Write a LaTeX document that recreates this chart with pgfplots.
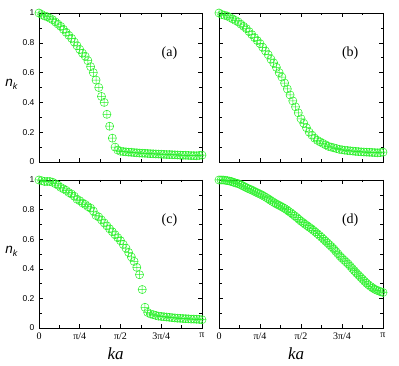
\documentclass[border=0pt]{standalone}
\usepackage{fontspec}
\setmainfont{Liberation Serif}
\setsansfont{Liberation Sans}
\usepackage{pgfplots}
\pgfplotsset{compat=1.18}
\definecolor{ptgreen}{RGB}{40,240,40}

\pgfplotsset{
  panel/.style={
    scale only axis, anchor=south west,
    width=163pt, height=149pt,
    xmin=0, ymin=0, ymax=1,
    ytick={0,0.2,0.4,0.6,0.8,1},
    minor x tick num=1, minor y tick num=1,
    major tick length=4pt, minor tick length=2.5pt,
    tick style={black, line width=0.5pt},
    axis line style={black, line width=0.6pt},
    clip=false,
    xticklabels={}, yticklabels={},
    /pgf/number format/assume math mode=true,
    yticklabel style={font=\sffamily\fontsize{8.5}{9}\selectfont, xshift=-1pt},
    xticklabel style={font=\fontsize{10}{11}\selectfont, yshift=-1pt},
  },
  sixty/.style={xmax=60, xtick={0,15,30,45,60}},
  eighty/.style={xmax=80, xtick={0,20,40,60,80}},
  ylab/.style={
    yticklabels={0,0.2,0.4,0.6,0.8,1},
    ylabel={\sffamily\itshape\fontsize{13.5}{13.5}\selectfont n\raisebox{-0.4ex}{\fontsize{9}{9}\selectfont k}},
    ylabel style={rotate=-90, at={(axis description cs:-0.17,0.52)}, anchor=center},
  },
  xlab/.style={
    xticklabels={0,π/4,π/2,3π/4,π},
    xlabel={\itshape\fontsize{17}{17}\selectfont ka},
    xlabel style={at={(axis description cs:0.47,-0.11)}, anchor=north},
  },
  pts/.style={only marks, mark=oplus, mark size=4.1pt, color=ptgreen, mark options={line width=0.5pt}},
}
\newcommand{\plab}[1]{\node[font=\fontsize{14}{14}\selectfont] at (axis description cs:0.80,0.73) {#1};}

\begin{document}
\begin{tikzpicture}
\useasboundingbox (0,0) rectangle (399pt,366pt);

% (a)
\begin{axis}[panel, sixty, ylab, at={(39pt,204pt)}]
\addplot[pts] coordinates {
(0,1.00) (1,0.99) (2,0.98) (3,0.975) (4,0.965) (5,0.955) (6,0.94) (7,0.925) (8,0.91) (9,0.89)
(10,0.87) (11,0.85) (12,0.83) (13,0.805) (14,0.78) (15,0.755) (16,0.73) (17,0.71) (18,0.68) (19,0.64)
(20,0.60) (21,0.55) (22,0.50) (23,0.44) (24,0.40) (25,0.32) (26,0.24) (27,0.16) (28,0.10) (29,0.08)
(30,0.072) (31,0.07) (32,0.068) (33,0.066) (34,0.065) (35,0.063) (36,0.062) (37,0.06) (38,0.059) (39,0.058)
(40,0.057) (41,0.056) (42,0.055) (43,0.054) (44,0.053) (45,0.052) (46,0.051) (47,0.05) (48,0.05) (49,0.049)
(50,0.048) (51,0.047) (52,0.046) (53,0.045) (54,0.045) (55,0.044) (56,0.043) (57,0.043) (58,0.042) (59,0.044)
(60,0.046)
};
\plab{(a)}
\end{axis}

% (b)
\begin{axis}[panel, sixty, at={(219pt,204pt)}, width=164pt]
\addplot[pts] coordinates {
(0,1.00) (1,0.99) (2,0.985) (3,0.98) (4,0.97) (5,0.96) (6,0.95) (7,0.94) (8,0.925) (9,0.91)
(10,0.895) (11,0.875) (12,0.855) (13,0.835) (14,0.815) (15,0.795) (16,0.77) (17,0.745) (18,0.72) (19,0.69)
(20,0.665) (21,0.635) (22,0.60) (23,0.57) (24,0.53) (25,0.49) (26,0.45) (27,0.41) (28,0.37) (29,0.33)
(30,0.29) (31,0.26) (32,0.23) (33,0.20) (34,0.18) (35,0.16) (36,0.145) (37,0.135) (38,0.125) (39,0.115)
(40,0.105) (41,0.10) (42,0.095) (43,0.09) (44,0.085) (45,0.082) (46,0.079) (47,0.077) (48,0.075) (49,0.073)
(50,0.071) (51,0.07) (52,0.068) (53,0.067) (54,0.066) (55,0.065) (56,0.064) (57,0.063) (58,0.062) (59,0.063)
(60,0.066)
};
\plab{(b)}
\end{axis}

% (c)
\begin{axis}[panel, sixty, ylab, xlab, at={(39pt,38pt)}, height=148pt]
\addplot[pts] coordinates {
(0,1.00) (1,0.995) (2,0.99) (3,0.99) (4,0.99) (5,0.985) (6,0.975) (7,0.965) (8,0.95) (9,0.94)
(10,0.93) (11,0.915) (12,0.905) (13,0.89) (14,0.87) (15,0.86) (16,0.845) (17,0.835) (18,0.82) (19,0.81)
(20,0.79) (21,0.76) (22,0.75) (23,0.73) (24,0.71) (25,0.69) (26,0.67) (27,0.65) (28,0.63) (29,0.61)
(30,0.59) (31,0.565) (32,0.54) (33,0.51) (34,0.48) (35,0.45) (36,0.41) (37,0.36) (38,0.26) (39,0.14)
(40,0.105) (41,0.095) (42,0.09) (43,0.085) (44,0.08) (45,0.078) (46,0.076) (47,0.074) (48,0.072) (49,0.07)
(50,0.068) (51,0.066) (52,0.065) (53,0.064) (54,0.063) (55,0.062) (56,0.06) (57,0.06) (58,0.059) (59,0.058)
(60,0.056)
};
\plab{(c)}
\end{axis}

% (d)
\begin{axis}[panel, eighty, xlab, at={(219pt,38pt)}, width=164pt, height=148pt]
\addplot[pts] coordinates {
(0,1.00) (1,1.00) (2,1.00) (3,0.998) (4,0.996) (5,0.993) (6,0.99) (7,0.985) (8,0.98) (9,0.977)
(10,0.972) (11,0.965) (12,0.958) (13,0.951) (14,0.944) (15,0.938) (16,0.932) (17,0.925) (18,0.918) (19,0.911)
(20,0.905) (21,0.898) (22,0.89) (23,0.882) (24,0.873) (25,0.864) (26,0.855) (27,0.846) (28,0.838) (29,0.831)
(30,0.824) (31,0.816) (32,0.808) (33,0.799) (34,0.789) (35,0.779) (36,0.768) (37,0.757) (38,0.746) (39,0.734)
(40,0.722) (41,0.712) (42,0.701) (43,0.691) (44,0.681) (45,0.671) (46,0.66) (47,0.649) (48,0.637) (49,0.625)
(50,0.613) (51,0.600) (52,0.587) (53,0.574) (54,0.561) (55,0.548) (56,0.534) (57,0.518) (58,0.502) (59,0.486)
(60,0.472) (61,0.459) (62,0.446) (63,0.433) (64,0.418) (65,0.402) (66,0.387) (67,0.372) (68,0.358) (69,0.344)
(70,0.330) (71,0.316) (72,0.303) (73,0.291) (74,0.280) (75,0.27) (76,0.262) (77,0.255) (78,0.25) (79,0.244)
(80,0.24)
};
\plab{(d)}
\end{axis}
\end{tikzpicture}
\end{document}
